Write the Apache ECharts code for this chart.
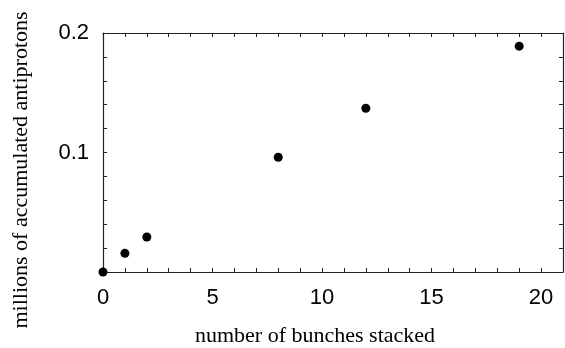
<!DOCTYPE html>
<html>
<head>
<meta charset="utf-8">
<script src="https://cdn.jsdelivr.net/npm/echarts@6/dist/echarts.min.js"></script>
<style>
  html, body { margin: 0; padding: 0; background: #fff; }
  #chart { width: 565px; height: 348px; }
</style>
</head>
<body>
<div id="chart"></div>
<script>
// bunches stacked vs millions of accumulated antiprotons
var bunches = [0, 1, 2, 8, 12, 19];
var antiprotons = [0, 0.0156, 0.0293, 0.096, 0.137, 0.189];
var xLabels = [0, 5, 10, 15, 20];
var yLabels = [0.1, 0.2];

var points = bunches.map(function (b, i) { return [b, antiprotons[i]]; });

var chart = echarts.init(document.getElementById('chart'));

var tickStyle = { show: true, inside: true, length: 4, lineStyle: { color: '#222', width: 1 } };
var lineStyle = { show: true, onZero: false, lineStyle: { color: '#222', width: 1.2 } };

chart.setOption({
  animation: false,
  backgroundColor: '#fff',
  grid: { left: 103, right: 2, top: 33, bottom: 76 },
  xAxis: [{
    type: 'value', min: 0, max: 21, interval: 1,
    axisLine: lineStyle, axisTick: tickStyle, splitLine: { show: false },
    axisLabel: {
      margin: 15, color: '#000', fontFamily: 'Liberation Sans', fontSize: 22,
      showMaxLabel: false,
      formatter: function (v) { return xLabels.indexOf(v) >= 0 ? String(v) : ''; }
    }
  }, {
    type: 'value', position: 'top', min: 0, max: 21, interval: 1,
    axisLine: lineStyle, axisTick: tickStyle, splitLine: { show: false },
    axisLabel: { show: false }
  }],
  yAxis: [{
    type: 'value', min: 0, max: 0.2, interval: 0.02,
    axisLine: lineStyle, axisTick: tickStyle, splitLine: { show: false },
    axisLabel: {
      margin: 14, color: '#000', fontFamily: 'Liberation Sans', fontSize: 22,
      formatter: function (v) {
        for (var i = 0; i < yLabels.length; i++) {
          if (Math.abs(v - yLabels[i]) < 1e-6) return yLabels[i].toFixed(1);
        }
        return '';
      }
    }
  }, {
    type: 'value', position: 'right', min: 0, max: 0.2, interval: 0.02,
    axisLine: lineStyle, axisTick: tickStyle, splitLine: { show: false },
    axisLabel: { show: false }
  }],
  graphic: [{
    type: 'text', x: 315, y: 336,
    style: {
      text: 'number of bunches stacked', fill: '#000',
      font: '22px "Liberation Serif"', align: 'center', verticalAlign: 'middle'
    }
  }, {
    type: 'text', x: 21, y: 170, rotation: Math.PI / 2,
    style: {
      text: 'millions of accumulated antiprotons', fill: '#000',
      font: '22px "Liberation Serif"', align: 'center', verticalAlign: 'middle'
    }
  }],
  series: [{
    type: 'scatter', data: points, symbol: 'circle', symbolSize: 9,
    itemStyle: { color: '#000', opacity: 1 }, clip: false
  }]
});
</script>
</body>
</html>
